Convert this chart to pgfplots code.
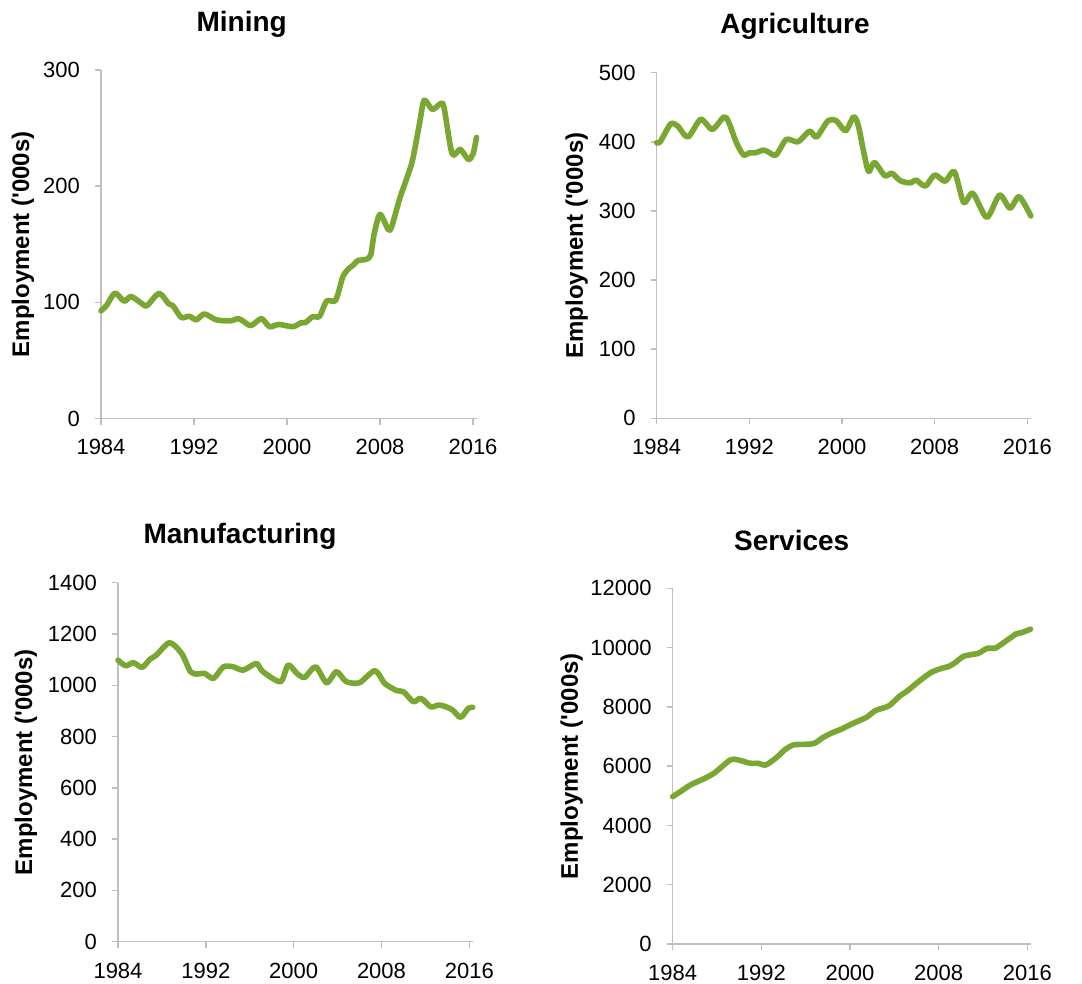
\documentclass[border=0pt]{standalone}
\usepackage{fontspec}
\setmainfont{Liberation Sans}
\usepackage{pgfplots}
\pgfplotsset{compat=1.18}
\definecolor{lg}{RGB}{122,166,50}
\definecolor{ax}{RGB}{191,191,191}
\pgfplotsset{emp/.style={
  scale only axis, anchor=south west,
  xmin=1984, xmax=2016.3, ymin=0,
  axis x line=bottom, axis y line=left,
  axis line style={draw=ax, line width=0.75pt, -},
  tick style={draw=ax, line width=0.75pt},
  tick align=outside, major tick length=3pt,
  xtick={1984,1992,2000,2008,2016},
  /pgf/number format/1000 sep={},
  /pgf/number format/assume math mode=true,
  scaled y ticks=false,
  xticklabel style={font=\fontsize{11}{13}\selectfont, text=black, yshift=-4pt},
  yticklabel style={font=\fontsize{11}{13}\selectfont, text=black, xshift=-4pt},
  ylabel={Employment (\textquotesingle 000s)},
  ylabel style={font=\fontsize{12}{14}\selectfont\bfseries, anchor=center},
  clip=false,
},
emline/.style={color=lg, line width=2.8pt, smooth, tension=0.45, line join=round, line cap=round, mark=none}}
\begin{document}
\begin{tikzpicture}
\path[use as bounding box] (0,0) rectangle (541pt,-492pt);
% Mining
\begin{axis}[emp, at={(50.5pt,-209.25pt)}, width=187.75pt, height=174.25pt,
  ymax=300, ytick={0,100,200,300},
  ylabel style={at={(axis description cs:-0.2077,0.5)}}]
\addplot[emline] coordinates {
(1984.0,92.7)(1984.5,97.6)(1985.2,108)(1986.0,101)(1986.6,105)(1987.7,97.6)(1988.0,97.5)
(1989.0,107.7)(1989.8,99)(1990.2,97)(1990.9,87)(1991.6,88)(1992.2,85)(1992.9,90)(1993.9,85)
(1995.1,84)(1995.8,86)(1996.2,84)(1996.9,80)(1997.8,86)(1998.5,79)(1999.3,81)(2000.5,79)
(2001.2,82.4)(2001.6,82.7)(2002.2,87.6)(2002.8,88)(2003.4,101)(2004.1,101)(2004.4,107.7)
(2004.8,122)(2005.3,129)(2005.7,132)(2006.1,136)(2006.8,137)(2007.2,140.7)(2007.5,159)
(2008.0,175.7)(2008.7,162.8)(2009.0,165)(2009.7,189.5)(2010.3,206.7)(2010.8,222.5)
(2011.4,254)(2011.8,274)(2012.5,266)(2013.2,271)(2013.5,268)(2014.2,228)(2014.9,231.7)
(2015.6,223)(2016.0,227.7)(2016.3,242)};
\end{axis}
% Agriculture
\begin{axis}[emp, at={(328.35pt,-209.15pt)}, width=187.05pt, height=172.8pt,
  ymax=500, ytick={0,100,200,300,400,500},
  ylabel style={at={(axis description cs:-0.2138,0.5)}}]
\addplot[emline] coordinates {
(1984.0,398.7)(1984.3,400)(1985.2,425.8)(1985.8,423)(1986.7,407)(1987.8,432.5)(1988.8,418)
(1989.8,436)(1990.2,429)(1990.9,398)(1991.5,381)(1992.0,384)(1992.5,384)(1993.2,388)
(1993.6,385.7)(1994.3,381)(1995.2,403.5)(1996.2,400)(1997.2,415.6)(1997.8,407)(1998.8,430.6)
(1999.5,430.6)(2000.3,416)(2001.0,436)(2001.4,424)(2001.9,383)(2002.3,357)(2002.8,370)
(2003.7,351)(2004.3,354.5)(2005.0,344)(2005.6,341)(2006.0,341)(2006.4,344.7)(2007.2,336)
(2008.0,352)(2008.9,343)(2009.7,357)(2010.5,312.5)(2011.3,325.5)(2012.5,290.7)(2013.6,323)
(2014.5,304)(2015.3,320.6)(2016.3,292.7)};
\end{axis}
% Manufacturing
\begin{axis}[emp, at={(59pt,-470.85pt)}, width=177.3pt, height=179.5pt,
  ymax=1400, ytick={0,200,400,600,800,1000,1200,1400},
  ylabel style={at={(axis description cs:-0.260,0.5)}}]
\addplot[emline] coordinates {
(1984.0,1098)(1984.7,1076)(1985.4,1088)(1986.2,1070)(1986.9,1101)(1987.5,1118)(1988.7,1166)
(1989.8,1124)(1990.6,1053)(1991.2,1044)(1991.9,1046)(1992.7,1027)(1993.6,1072)(1994.5,1072)
(1995.4,1059)(1996.6,1085)(1997.2,1053)(1998.8,1014)(1999.5,1079)(2000.3,1046)(2001.0,1031)
(2002.0,1072)(2003.0,1010)(2003.9,1053)(2004.8,1014)(2006.0,1010)(2007.4,1057)(2008.3,1007)
(2009.4,979)(2010.0,975)(2010.9,936)(2011.6,949)(2012.5,916)(2013.3,923)(2014.4,906)
(2015.2,875)(2015.9,910)(2016.3,914)};
\end{axis}
% Services
\begin{axis}[emp, at={(336.35pt,-472pt)}, width=178.95pt, height=177.85pt,
  ymax=12000, ytick={0,2000,4000,6000,8000,10000,12000},
  ylabel style={at={(axis description cs:-0.282,0.5)}}]
\addplot[emline] coordinates {
(1984.0,4972)(1984.7,5141)(1985.6,5366)(1986.9,5591)(1987.8,5782)(1989.2,6210)(1989.9,6210)
(1991.0,6097)(1991.7,6097)(1992.4,6041)(1993.4,6300)(1994.1,6547)(1994.9,6716)(1996.1,6739)
(1996.8,6772)(1997.6,6975)(1998.5,7144)(1999.2,7245)(2000.3,7448)(2001.5,7650)(2002.3,7875)
(2003.5,8033)(2004.5,8370)(2005.1,8516)(2006.2,8854)(2007.3,9158)(2008.3,9304)(2008.9,9360)
(2009.5,9495)(2010.2,9698)(2010.8,9754)(2011.6,9810)(2012.4,9979)(2013.1,9979)(2013.8,10148)
(2015.0,10463)(2015.5,10508)(2016.3,10620)};
\end{axis}
% titles
\node[font=\fontsize{14}{16}\selectfont\bfseries, anchor=base] at (120.85pt,-15.85pt) {Mining};
\node[font=\fontsize{14}{16}\selectfont\bfseries, anchor=base] at (397.5pt,-16.65pt) {Agriculture};
\node[font=\fontsize{14}{16}\selectfont\bfseries, anchor=base] at (120pt,-271.65pt) {Manufacturing};
\node[font=\fontsize{14}{16}\selectfont\bfseries, anchor=base] at (395.85pt,-275pt) {Services};
\end{tikzpicture}
\end{document}
